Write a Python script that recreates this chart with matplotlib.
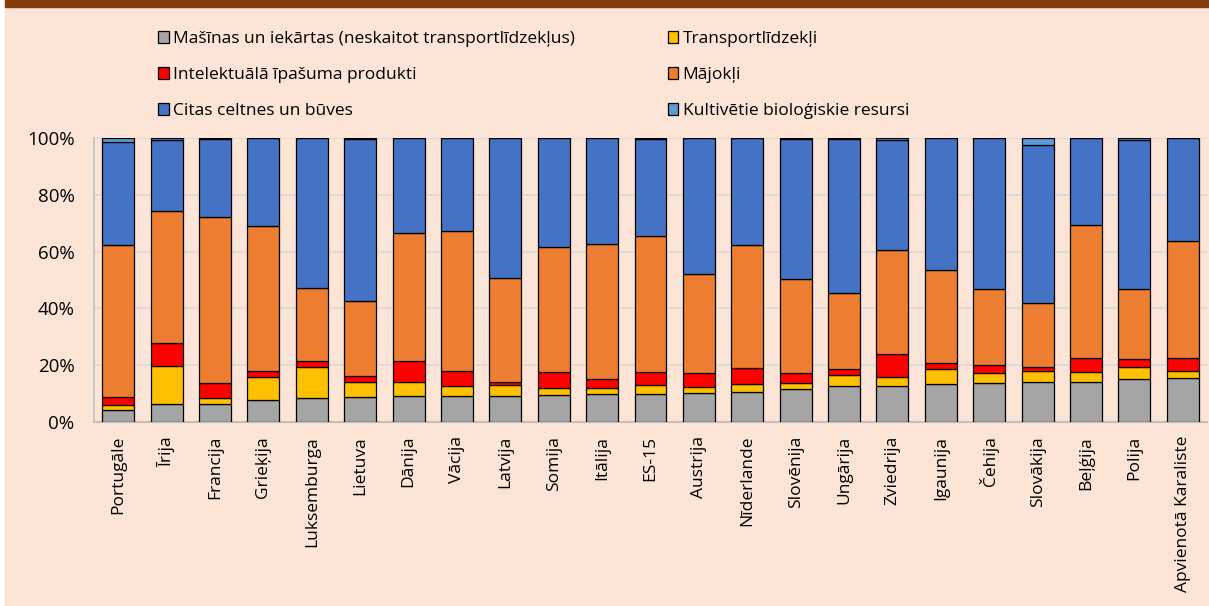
import numpy as np
import matplotlib.pyplot as plt
from matplotlib.ticker import PercentFormatter

plt.rcParams['font.family'] = ['Open Sans', 'DejaVu Sans']

countries = ["Portugāle", "Īrija", "Francija", "Grieķija", "Luksemburga", "Lietuva",
             "Dānija", "Vācija", "Latvija", "Somija", "Itālija", "ES-15", "Austrija",
             "Nīderlande", "Slovēnija", "Ungārija", "Zviedrija", "Igaunija", "Čehija",
             "Slovākija", "Beļģija", "Polija", "Apvienotā Karaliste"]

# shares in % per asset type
masinas = [4.1, 6.2, 6.5, 7.6, 8.6, 8.9, 9.3, 9.3, 9.3, 9.5, 9.9, 10.0, 10.2,
           10.6, 11.5, 12.6, 12.7, 13.4, 13.6, 14.0, 14.2, 15.1, 15.5]
transports = [1.8, 13.6, 2.1, 8.4, 10.6, 5.1, 4.7, 3.5, 3.9, 2.4, 2.1, 2.9, 2.2,
              2.7, 2.3, 3.8, 3.1, 5.3, 3.7, 3.8, 3.4, 4.2, 2.3]
intelekt = [2.9, 8.1, 5.2, 2.0, 2.2, 2.2, 7.5, 5.1, 0.9, 5.7, 3.1, 4.7, 4.9,
            5.6, 3.4, 2.3, 8.1, 2.1, 2.7, 1.5, 5.0, 2.8, 4.8]
majokli = [53.4, 46.3, 58.3, 50.9, 25.7, 26.3, 44.9, 49.2, 36.7, 44.0, 47.6, 48.0, 34.8,
           43.3, 33.0, 26.6, 36.8, 32.8, 26.9, 22.5, 46.8, 24.7, 41.2]
celtnes = [36.3, 25.2, 27.5, 31.1, 52.9, 57.3, 33.6, 32.9, 49.2, 38.4, 37.3, 34.2, 47.9,
           37.8, 49.3, 54.5, 38.6, 46.4, 53.1, 55.6, 30.6, 52.5, 36.2]
bio = [1.5, 0.6, 0.4, 0.0, 0.0, 0.2, 0.0, 0.0, 0.0, 0.0, 0.0, 0.2, 0.0,
       0.0, 0.5, 0.2, 0.7, 0.0, 0.0, 2.6, 0.0, 0.7, 0.0]

series = [
    ("Mašīnas un iekārtas (neskaitot transportlīdzekļus)", masinas, "#A5A5A5"),
    ("Transportlīdzekļi", transports, "#FFC000"),
    ("Intelektuālā īpašuma produkti", intelekt, "#FF0000"),
    ("Mājokļi", majokli, "#ED7D31"),
    ("Citas celtnes un būves", celtnes, "#4472C4"),
    ("Kultivētie bioloģiskie resursi", bio, "#5B9BD5"),
]

W, H = 1209, 606
bg = "#FCE4D6"
fig = plt.figure(figsize=(W / 100, H / 100), dpi=100, facecolor="white")
# peach panel with a thin white margin on the left, brown band on top
fig.add_artist(plt.Rectangle((5 / W, 1 / H), 1 - 5 / W, 1 - 1 / H,
                             transform=fig.transFigure, color=bg, zorder=0))
fig.add_artist(plt.Rectangle((5 / W, 1 - 7 / H), 1 - 5 / W, 7 / H,
                             transform=fig.transFigure, color="#843C0C", zorder=0))

ax = fig.add_axes([0.0778, 0.3036, 0.9205, 0.4687])
ax.set_facecolor(bg)

x = np.arange(len(countries))
bottom = np.zeros(len(countries))
handles = {}
for name, vals, col in series:
    v = np.array(vals) / 100.0
    b = ax.bar(x, v, bottom=bottom, width=0.66, color=col, edgecolor="black",
               linewidth=0.9, label=name, zorder=3)
    handles[name] = b
    bottom += v

ax.set_xlim(-0.5, len(countries) - 0.5)
ax.set_ylim(0, 1)
ax.yaxis.set_major_formatter(PercentFormatter(1.0, decimals=0))
ax.set_yticks(np.arange(0, 1.01, 0.2))
ax.grid(axis="y", color="#D9D9D9", linewidth=1.2, zorder=0)
ax.set_xticks(x)
ax.set_xticklabels(countries, rotation=90, fontsize=12.5)
ax.tick_params(axis="y", length=0, pad=14, labelsize=13.5)
ax.tick_params(axis="x", length=0, pad=10)
for s in ["top", "right"]:
    ax.spines[s].set_visible(False)
ax.spines["left"].set_color("#BFBFBF")
ax.spines["bottom"].set_color("#BFBFBF")
ax.spines["left"].set_linewidth(1.2)
ax.spines["bottom"].set_linewidth(1.5)

names = [s[0] for s in series]
order = [0, 2, 4, 1, 3, 5]
fig.legend([handles[names[i]] for i in order], [names[i] for i in order],
           ncol=2, loc="upper left", bbox_to_anchor=(0.118, 0.975), frameon=False,
           fontsize=12.5, handlelength=0.6, handleheight=0.7, handletextpad=0.25,
           columnspacing=5.35, labelspacing=1.15)

fig.savefig("out.png", dpi=100, facecolor="white")
